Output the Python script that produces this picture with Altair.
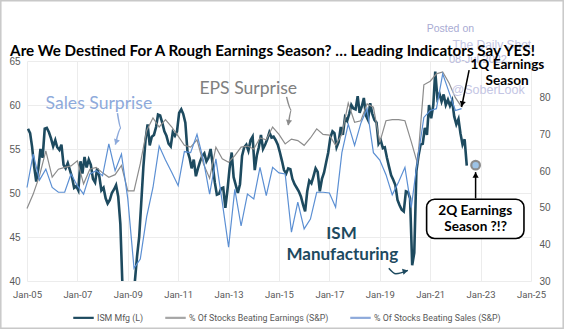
import altair as alt
import pandas as pd

# ---------------- data ----------------
ism_values = [
    57.3, 56.8, 55.3, 53.0, 51.3, 52.8, 55.0, 54.0, 57.3, 57.4, 56.9, 56.2,  # 2005
    55.3, 56.0, 55.2, 54.9, 55.5, 53.2, 52.8, 53.4, 52.6, 51.8, 50.6, 50.8,  # 2006
    50.3, 53.6, 52.2, 54.1, 52.9, 53.8, 53.2, 51.6, 51.2, 52.8, 51.9, 50.3,  # 2007
    50.6, 49.4, 48.8, 49.2, 50.0, 50.4, 50.9, 49.6, 46.5, 39.5, 36.2, 33.0,  # 2008
    35.3, 35.6, 36.3, 40.1, 42.8, 45.0, 48.9, 53.0, 56.0, 57.8, 55.4, 56.4,  # 2009
    56.6, 57.5, 58.9, 58.8, 58.0, 57.0, 56.5, 55.6, 55.3, 56.9, 56.5, 57.0,  # 2010
    59.1, 59.5, 59.0, 58.0, 54.8, 54.0, 52.8, 53.8, 51.9, 52.8, 53.6, 54.2,  # 2011
    54.5, 53.6, 54.0, 55.0, 53.3, 51.2, 49.8, 49.9, 50.5, 50.6, 48.3, 50.3,  # 2012
    52.8, 54.6, 51.8, 50.9, 50.0, 51.0, 54.2, 55.2, 55.5, 54.8, 56.0, 56.4,  # 2013
    52.6, 54.3, 55.2, 56.6, 55.0, 55.5, 56.1, 56.9, 56.3, 56.4, 56.0, 55.5,  # 2014
    54.6, 53.6, 52.6, 52.2, 52.8, 52.7, 51.6, 51.0, 50.6, 50.2, 49.6, 48.7,  # 2015
    47.9, 50.2, 51.4, 51.1, 51.9, 52.8, 52.4, 50.2, 51.6, 52.3, 53.5, 54.6,  # 2016
    56.3, 57.0, 56.8, 55.2, 55.8, 57.5, 56.6, 58.6, 58.2, 59.0, 60.0, 59.6,  # 2017
    59.5, 61.0, 59.1, 59.8, 60.8, 58.8, 58.3, 60.2, 59.0, 58.3, 58.0, 55.6,  # 2018
    56.0, 55.1, 55.2, 54.0, 53.0, 52.0, 51.5, 50.9, 49.2, 48.6, 48.1, 47.9,  # 2019
    50.2, 50.1, 49.4, 41.8, 43.2, 52.5, 54.2, 55.5, 55.6, 57.4, 56.6, 60.0,  # 2020
    58.5, 60.0, 63.8, 60.8, 61.3, 60.4, 61.2, 60.0, 60.6, 59.9, 60.5, 58.7,  # 2021
    57.8, 58.4, 56.8, 55.5, 56.1, 53.1,                                      # 2022
]

eps_values = [
    49.8, 53.7, 58.7, 65.5, 58.3, 60.5, 61.0, 61.4, 62.8, 56.5, 60.5, 61.0,
    59.5, 58.3, 59.0, 61.5, 54.6, 54.6, 62.0, 71.0, 74.5, 72.0, 74.0, 72.0,
    69.5, 67.0, 66.5, 68.5, 62.0, 58.0, 66.5, 63.3, 62.4, 64.2, 66.5, 66.8,
    66.0, 69.0, 68.5, 72.0, 70.0, 67.4, 68.7, 68.3, 67.0, 69.0, 71.5, 70.0,
    69.8, 67.0, 70.0, 78.5, 73.3, 73.7, 78.3, 77.4, 67.8, 73.7, 74.0, 74.0,
    73.7, 68.0, 62.0, 83.5, 84.5, 86.5, 87.0, 84.0, 80.0, 77.5,
]

sales_values = [
    55.5, 64.6, 57.5, 60.5, 55.5, 54.2, 54.2, 59.2, 56.0, 53.7, 59.2, 60.1,
    58.7, 67.4, 60.1, 64.6, 52.4, 33.5, 36.0, 47.5, 55.5, 66.8, 63.0, 59.6,
    56.0, 65.3, 65.0, 70.0, 63.0, 53.7, 63.3, 51.5, 39.2, 55.0, 45.0, 53.7,
    52.4, 61.0, 53.3, 61.0, 59.5, 59.2, 43.3, 51.5, 44.2, 46.9, 54.2, 54.2,
    54.0, 50.1, 65.0, 72.8, 67.0, 73.0, 77.0, 65.0, 63.0, 59.0, 53.5, 57.0,
    61.0, 50.0, 63.0, 74.6, 76.5, 77.0, 86.5, 81.5, 76.5, 77.0,
]

series_names = ["ISM Mfg (L)", "% Of Stocks Beating Earnings (S&P)", "% Of Stocks Beating Sales (S&P)"]
series_colors = ["#1d4a5f", "#a6a6a6", "#8eaadb"]

ism_dates = (pd.date_range("2005-01-01", periods=len(ism_values), freq="MS") + pd.Timedelta(days=14)).strftime("%Y-%m-%d")
q_dates = pd.date_range("2005-01-01", periods=len(eps_values), freq="3MS").strftime("%Y-%m-%d")

ism_df = pd.DataFrame({"date": ism_dates, "value": ism_values, "series": series_names[0]})
eps_df = pd.DataFrame({"date": q_dates, "value": eps_values, "series": series_names[1]})
sales_df = pd.DataFrame({"date": q_dates, "value": sales_values, "series": series_names[2]})

# next-season marker (right axis units)
marker_df = pd.DataFrame({"date": ["2022-10-21"], "value": [61.6]})

# annotation positions (date, right-axis value)
title_df = pd.DataFrame({
    "text": ["Are We Destined For A Rough Earnings Season? \u2026 Leading Indicators Say YES!"],
    "date": ["2004-05-01"], "value": [91.5],
})
label_df = pd.DataFrame({
    "text": ["Sales Surprise", "EPS Surprise"],
    "date": ["2007-11-09", "2013-10-13"],
    "value": [78.3, 82.4],
    "col": ["#8eaadb", "#808080"],
})
ism_label_df = pd.DataFrame({
    "text": ["ISM", "Manufacturing"],
    "date": ["2017-06-26", "2017-07-07"],
    "value": [42.8, 37.0],
})
black_label_df = pd.DataFrame({
    "text": ["1Q Earnings", "Season", "2Q Earnings", "Season ?!?"],
    "date": ["2024-01-25", "2024-01-21", "2022-10-15", "2022-10-21"],
    "value": [88.9, 84.5, 49.1, 44.6],
})
wm_df = pd.DataFrame({
    "text": ["Posted on", "The Daily Shot", "08-Jul-2022", "@SoberLook"],
    "date": ["2021-10-21", "2023-06-13", "2022-11-24", "2023-04-21"],
    "value": [98.8, 94.4, 90.3, 82.1],
    "size": [10.5, 12, 11, 12.5],
    "col": ["#a9abd3", "#c4c6e4", "#b9bbdd", "#c4c6e4"],
})
box_df = pd.DataFrame({"date": ["2020-11-10"], "date2": ["2024-09-21"], "value": [52.3], "value2": [41.6]})

arrow_df = pd.DataFrame({
    "arrow": ["s", "s", "s", "e", "e", "e", "i", "i", "i", "q1", "q1", "q2", "q2"],
    "order": [0, 1, 2, 0, 1, 2, 0, 1, 2, 0, 1, 0, 1],
    "date": ["2008-08-04", "2008-09-24", "2008-07-05",
             "2015-04-21", "2015-06-29", "2015-05-16",
             "2019-05-12", "2019-08-22", "2020-02-12",
             "2022-07-19", "2022-04-01",
             "2022-10-21", "2022-10-21"],
    "value": [75.8, 71.7, 67.2, 80.2, 76.6, 72.5, 33.5, 32.0, 32.9, 87.5, 77.45, 52.5, 59.7],
    "col": ["#8eaadb"] * 3 + ["#8c8c8c"] * 3 + ["#1d4a5f"] * 3 + ["#000000"] * 4,
})
head_df = pd.DataFrame({
    "date": ["2008-07-16", "2015-05-20", "2020-01-07", "2022-04-10", "2022-10-21"],
    "value": [67.9, 73.2, 32.7, 78.3, 58.9],
    "shape": ["triangle-down", "triangle-down", "triangle-right", "triangle-down", "triangle-up"],
    "angle": [18, 11, 346, 12, 0],
    "col": ["#8eaadb", "#8c8c8c", "#1d4a5f", "#000000", "#000000"],
})
frame_df = pd.DataFrame({"a": [0]})

# ---------------- encodings ----------------
HUMAN = "Lato"
SMALL = "Roboto"
LAB = "#595959"

x_enc = alt.X(
    "date:T",
    scale=alt.Scale(domain=[alt.DateTime(year=2005, month=1, date=1), alt.DateTime(year=2025, month=1, date=1)]),
    axis=alt.Axis(
        values=[alt.DateTime(year=y, month=1, date=1) for y in range(2005, 2026, 2)],
        format="%b-%y", title=None, grid=True, gridColor="#ececec", ticks=False, domain=False,
        labelFont=SMALL, labelFontSize=9.5, labelColor=LAB, labelPadding=8, labelFlush=False,
    ),
)

y_left = alt.Y(
    "value:Q",
    scale=alt.Scale(domain=[40, 65], nice=False, zero=False),
    axis=alt.Axis(values=[40, 45, 50, 55, 60, 65], title=None, grid=True, gridColor="#ececec",
                  ticks=False, domain=False, labelFont="Liberation Sans", labelFontSize=10,
                  labelColor=LAB, labelPadding=7),
)
y_right = alt.Y(
    "value:Q",
    scale=alt.Scale(domain=[30, 90], nice=False, zero=False),
    axis=alt.Axis(orient="right", values=[30, 40, 50, 60, 70, 80], title=None, grid=False,
                  ticks=False, domain=False, labelFont="Liberation Sans", labelFontSize=10,
                  labelColor=LAB, labelPadding=8),
)

color_enc = alt.Color(
    "series:N",
    scale=alt.Scale(domain=series_names, range=series_colors),
    legend=alt.Legend(
        title=None, orient="none", legendX=45, legendY=245, direction="horizontal",
        symbolType="stroke", symbolSize=420, symbolStrokeWidth=2.2, labelFont=SMALL,
        labelFontSize=8.8, labelColor=LAB, columnPadding=16, labelOffset=2,
    ),
)

ism_line = alt.Chart(ism_df).mark_line(strokeWidth=2.6, clip=True).encode(
    x=x_enc, y=y_left, color=color_enc, order="date:T")

left_group = alt.layer(ism_line)

# thin lines: legend colour from the shared scale, drawn stroke as in the reference
eps_line = alt.Chart(eps_df).mark_line(strokeWidth=1.2).encode(
    x=x_enc, y=y_right, color=color_enc, stroke=alt.value("#8c8c8c"))
sales_line = alt.Chart(sales_df).mark_line(strokeWidth=1.2).encode(
    x=x_enc, y=y_right, color=color_enc, stroke=alt.value("#5b8fd3"))

wm_text = alt.Chart(wm_df).mark_text(font="Liberation Sans", baseline="middle", align="center").encode(
    x=x_enc, y=y_right, text="text:N", size=alt.Size("size:Q", scale=None, legend=None),
    fill=alt.Fill("col:N", scale=None, legend=None))

title_text = alt.Chart(title_df).mark_text(font=HUMAN, fontSize=15.2, fontWeight="bold", baseline="alphabetic",
                                           align="left", color="black").encode(
    x=x_enc, y=y_right, text="text:N")

box = alt.Chart(box_df).mark_rect(cornerRadius=8, fill="white", stroke="black", strokeWidth=1.6).encode(
    x=x_enc, x2="date2:T", y=y_right, y2="value2:Q")

arrows = alt.Chart(arrow_df).mark_line(strokeWidth=1.5, interpolate="monotone").encode(
    x=x_enc, y=y_right, detail="arrow:N", order="order:Q",
    stroke=alt.Stroke("col:N", scale=None, legend=None))
heads = alt.Chart(head_df).mark_point(filled=True, size=38, opacity=1).encode(
    x=x_enc, y=y_right, shape=alt.Shape("shape:N", scale=None, legend=None),
    angle=alt.Angle("angle:Q", scale=None),
    fill=alt.Fill("col:N", scale=None, legend=None))

marker = alt.Chart(marker_df).mark_point(filled=True, size=75, fill="#9dc3e6", stroke="#8c8c8c",
                                          strokeWidth=2.2, opacity=1).encode(x=x_enc, y=y_right)

surprise_text = alt.Chart(label_df).mark_text(font=HUMAN, fontSize=17.6, baseline="middle", align="center").encode(
    x=x_enc, y=y_right, text="text:N", fill=alt.Fill("col:N", scale=None, legend=None))
ism_text = alt.Chart(ism_label_df).mark_text(font=HUMAN, fontSize=17, fontWeight="bold", baseline="middle",
                                             align="center", color="#1d4a5f").encode(
    x=x_enc, y=y_right, text="text:N")
black_text = alt.Chart(black_label_df).mark_text(font=HUMAN, fontSize=13.6, fontWeight="bold", baseline="middle",
                                                 align="center", color="black").encode(
    x=x_enc, y=y_right, text="text:N")

right_group = alt.layer(eps_line, sales_line, wm_text, title_text, box, arrows, heads, marker,
                        surprise_text, ism_text, black_text)

frame = alt.Chart(frame_df).mark_rect(fill=None, stroke="#c8c8c8", strokeWidth=1.5).encode(
    x=alt.value(-26.2), x2=alt.value(536.2), y=alt.value(-60.2), y2=alt.value(267.2))

chart = alt.layer(left_group, right_group, frame).resolve_scale(y="independent").properties(
    width=504, height=220,
    padding={"left": 27, "top": 61, "right": 33, "bottom": 48},
    autosize=alt.AutoSizeParams(type="none"),
    background="white",
).configure_view(stroke=None)

chart.save("out.html", embed_options={"renderer": "svg", "actions": False})
